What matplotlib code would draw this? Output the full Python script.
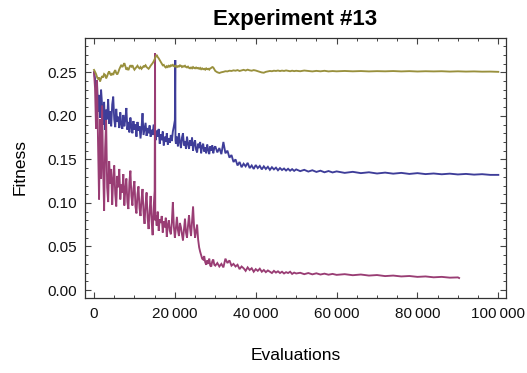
import matplotlib
matplotlib.use("Agg")
import matplotlib.pyplot as plt
import numpy as np
from matplotlib.ticker import MultipleLocator, FixedLocator, FixedFormatter

plt.rcParams['font.family'] = ['Liberation Sans', 'DejaVu Sans']

# Early phase, recorded every 250 evaluations
early_evals = list(range(0, 30001, 250))
# Later phase, recorded more sparsely
late_evals = list(range(30500, 50001, 500)) + list(range(51000, 60001, 1000)) + list(range(62000, 100001, 2000))
magenta_late_evals = list(range(30500, 50001, 500)) + list(range(51000, 60001, 1000)) + list(range(62000, 90001, 2000)) + [90300]

blue_early = [0.250, 0.243, 0.228, 0.236, 0.205, 0.224, 0.198, 0.230, 0.212, 0.190,
              0.216, 0.184, 0.207, 0.196, 0.219, 0.191, 0.205, 0.188, 0.213, 0.222,
              0.196, 0.187, 0.208, 0.193, 0.199, 0.186, 0.204, 0.190, 0.185, 0.201,
              0.188, 0.196, 0.209, 0.184, 0.193, 0.181, 0.198, 0.187, 0.180, 0.194,
              0.184, 0.190, 0.176, 0.193, 0.183, 0.188, 0.174, 0.186, 0.203, 0.178,
              0.185, 0.192, 0.177, 0.186, 0.180, 0.189, 0.176, 0.184, 0.178, 0.190,
              0.179, 0.172, 0.183, 0.176, 0.185, 0.168, 0.179, 0.172, 0.182, 0.166,
              0.176, 0.170, 0.180, 0.167, 0.174, 0.169, 0.178, 0.171, 0.182, 0.188,
              0.195, 0.168, 0.176, 0.165, 0.180, 0.170, 0.163, 0.175, 0.180, 0.166,
              0.171, 0.162, 0.176, 0.168, 0.162, 0.172, 0.166, 0.175, 0.160, 0.168,
              0.172, 0.161, 0.158, 0.168, 0.163, 0.170, 0.157, 0.165, 0.168, 0.159,
              0.164, 0.157, 0.167, 0.161, 0.156, 0.165, 0.160, 0.166, 0.157, 0.163,
              0.165]
blue_spike_evals = [20100, 20150]
blue_spike_vals = [0.264, 0.172]
blue_late = [0.158, 0.163, 0.156, 0.170, 0.157, 0.160, 0.152, 0.155, 0.147, 0.150,
             0.143, 0.147, 0.141, 0.145, 0.142, 0.146, 0.140, 0.143, 0.139, 0.1435,
             0.140, 0.1425, 0.1385, 0.142, 0.139, 0.1415, 0.138, 0.141, 0.1385, 0.1405,
             0.1375, 0.1400, 0.1378, 0.1395, 0.1372, 0.1392, 0.1370, 0.1388, 0.1368, 0.1385,
             0.1365, 0.1380, 0.1360, 0.1375, 0.1356, 0.1370, 0.1352, 0.1366, 0.1350, 0.1362,
             0.1345, 0.1357, 0.1342, 0.1352, 0.1338, 0.1348, 0.1336, 0.1345, 0.1333, 0.1342,
             0.1331, 0.1338, 0.1329, 0.1336, 0.1327, 0.1333, 0.1325, 0.1330, 0.1322, 0.1322]

magenta_early = [0.250, 0.232, 0.185, 0.241, 0.168, 0.104, 0.196, 0.128, 0.212, 0.140,
                 0.091, 0.163, 0.195, 0.118, 0.101, 0.148, 0.122, 0.139, 0.098, 0.127,
                 0.143, 0.110, 0.096, 0.131, 0.118, 0.139, 0.104, 0.121, 0.112, 0.133,
                 0.097, 0.116, 0.128, 0.101, 0.093, 0.124, 0.137, 0.108, 0.097, 0.117,
                 0.125, 0.096, 0.088, 0.110, 0.119, 0.094, 0.085, 0.104, 0.116, 0.089,
                 0.076, 0.098, 0.112, 0.083, 0.070, 0.091, 0.108, 0.079, 0.063, 0.095,
                 0.114, 0.086, 0.074, 0.090, 0.068, 0.081, 0.077, 0.085, 0.066, 0.079,
                 0.072, 0.083, 0.061, 0.075, 0.080, 0.068, 0.064, 0.078, 0.101, 0.073,
                 0.060, 0.071, 0.084, 0.069, 0.062, 0.077, 0.072, 0.064, 0.057, 0.070,
                 0.082, 0.066, 0.060, 0.074, 0.086, 0.071, 0.062, 0.079, 0.096, 0.072,
                 0.060, 0.068, 0.075, 0.058, 0.049, 0.044, 0.040, 0.036, 0.035, 0.039,
                 0.032, 0.029, 0.034, 0.030, 0.036, 0.028, 0.027, 0.033, 0.035, 0.029,
                 0.028]
magenta_spike_evals = [15100, 15150]
magenta_spike_vals = [0.272, 0.080]
magenta_late = [0.031, 0.027, 0.030, 0.026, 0.036, 0.031, 0.034, 0.028, 0.030, 0.027,
                0.029, 0.024, 0.027, 0.025, 0.022, 0.026, 0.023, 0.025, 0.021, 0.024,
                0.022, 0.0245, 0.021, 0.023, 0.0205, 0.0225, 0.021, 0.0195, 0.022, 0.020,
                0.0215, 0.0195, 0.021, 0.019, 0.0205, 0.0195, 0.021, 0.0185, 0.020, 0.019,
                0.0198, 0.0182, 0.0195, 0.0180, 0.0192, 0.0178, 0.0188, 0.0176, 0.0185, 0.0174,
                0.0182, 0.0170, 0.0178, 0.0166, 0.0172, 0.0160, 0.0166, 0.0156, 0.0161, 0.0151,
                0.0156, 0.0146, 0.0151, 0.0142, 0.0145, 0.0138]

gold_early = [0.2527, 0.2505, 0.2480, 0.2445, 0.2420, 0.2440, 0.2395, 0.2430, 0.2455, 0.2440,
              0.2480, 0.2470, 0.2430, 0.2455, 0.2490, 0.2510, 0.2480, 0.2465, 0.2490, 0.2470,
              0.2505, 0.2525, 0.2490, 0.2475, 0.2500, 0.2535, 0.2560, 0.2585, 0.2560, 0.2580,
              0.2605, 0.2570, 0.2530, 0.2545, 0.2525, 0.2555, 0.2580, 0.2565, 0.2580, 0.2550,
              0.2530, 0.2545, 0.2560, 0.2575, 0.2555, 0.2545, 0.2560, 0.2540, 0.2555, 0.2570,
              0.2565, 0.2580, 0.2560, 0.2550, 0.2540, 0.2555, 0.2575, 0.2590, 0.2605, 0.2625,
              0.2650, 0.2680, 0.2700, 0.2675, 0.2660, 0.2640, 0.2620, 0.2600, 0.2580, 0.2585,
              0.2565, 0.2555, 0.2570, 0.2560, 0.2575, 0.2565, 0.2580, 0.2575, 0.2585, 0.2570,
              0.2565, 0.2575, 0.2560, 0.2570, 0.2565, 0.2580, 0.2575, 0.2560, 0.2570, 0.2565,
              0.2575, 0.2560, 0.2555, 0.2565, 0.2550, 0.2545, 0.2555, 0.2545, 0.2560, 0.2550,
              0.2545, 0.2555, 0.2545, 0.2550, 0.2540, 0.2550, 0.2535, 0.2545, 0.2535, 0.2540,
              0.2530, 0.2545, 0.2535, 0.2540, 0.2530, 0.2545, 0.2550, 0.2560, 0.2555, 0.2535,
              0.2515]
gold_late = [0.2500, 0.2492, 0.2500, 0.2505, 0.2512, 0.2510, 0.2518, 0.2515, 0.2522, 0.2518,
             0.2525, 0.2515, 0.2522, 0.2528, 0.2520, 0.2530, 0.2522, 0.2518, 0.2525, 0.2520,
             0.2512, 0.2505, 0.2498, 0.2495, 0.2505, 0.2510, 0.2515, 0.2512, 0.2518, 0.2515,
             0.2520, 0.2514, 0.2519, 0.2515, 0.2521, 0.2516, 0.2512, 0.2518, 0.2513, 0.2517,
             0.2512, 0.2520, 0.2515, 0.2510, 0.2516, 0.2511, 0.2517, 0.2510, 0.2514, 0.2511,
             0.2515, 0.2511, 0.2514, 0.2510, 0.2513, 0.2511, 0.2514, 0.2510, 0.2513, 0.2509,
             0.2512, 0.2510, 0.2512, 0.2508, 0.2511, 0.2508, 0.2510, 0.2507, 0.2508, 0.2505]

x_ticks = [0, 20000, 40000, 60000, 80000, 100000]
x_tick_labels = ["0", "20\u2009000", "40\u2009000", "60\u2009000", "80\u2009000", "100\u2009000"]
y_ticks = [0.00, 0.05, 0.10, 0.15, 0.20, 0.25]
y_tick_labels = ["0.00", "0.05", "0.10", "0.15", "0.20", "0.25"]

colors = {"blue": (0.245, 0.24, 0.6), "magenta": (0.6, 0.24, 0.456), "gold": (0.6, 0.564, 0.24)}


def assemble(*parts):
    xs, ys = [], []
    for px, py in parts:
        xs += list(px)
        ys += list(py)
    xs = np.asarray(xs, dtype=float)
    ys = np.asarray(ys, dtype=float)
    order = np.argsort(xs, kind="stable")
    return xs[order], ys[order]


series = [
    ("blue", assemble((early_evals, blue_early), (blue_spike_evals, blue_spike_vals),
                      (late_evals, blue_late))),
    ("magenta", assemble((early_evals, magenta_early), (magenta_spike_evals, magenta_spike_vals),
                         (magenta_late_evals, magenta_late))),
    ("gold", assemble((early_evals, gold_early), (late_evals, gold_late))),
]

fig = plt.figure(figsize=(5.27, 3.73), dpi=100)
ax = fig.add_axes([85 / 527, 1 - 298.3 / 373, (506 - 85) / 527, (298.3 - 37.7) / 373])

for name, (xs, ys) in series:
    ax.plot(xs, ys, color=colors[name], lw=1.35, solid_joinstyle="miter")

ax.set_xlim(-2230, 101900)
ax.set_ylim(-0.0095, 0.2897)

ax.xaxis.set_major_locator(FixedLocator(x_ticks))
ax.xaxis.set_major_formatter(FixedFormatter(x_tick_labels))
ax.xaxis.set_minor_locator(MultipleLocator(5000))
ax.yaxis.set_major_locator(FixedLocator(y_ticks))
ax.yaxis.set_major_formatter(FixedFormatter(y_tick_labels))
ax.yaxis.set_minor_locator(MultipleLocator(0.01))

ax.tick_params(which="both", direction="in", top=True, right=True, color="#444444",
               labelsize=11, labelcolor="#111111")
ax.tick_params(which="major", length=4.0, width=0.8, pad=6)
ax.tick_params(which="minor", length=2.2, width=0.7)
for side in ax.spines.values():
    side.set_color("#333333")
    side.set_linewidth(0.9)

fig.text((85 + 506) / 2 / 527, 1 - 20 / 373, "Experiment #13", ha="center", va="center",
         fontsize=16, fontweight="bold")
fig.text(20 / 527, 1 - 167 / 373, "Fitness", ha="center", va="center", rotation=90,
         fontsize=12.5)
fig.text(295.5 / 527, 1 - 356 / 373, "Evaluations", ha="center", va="center", fontsize=12.5)

fig.savefig("out.png", dpi=100)
